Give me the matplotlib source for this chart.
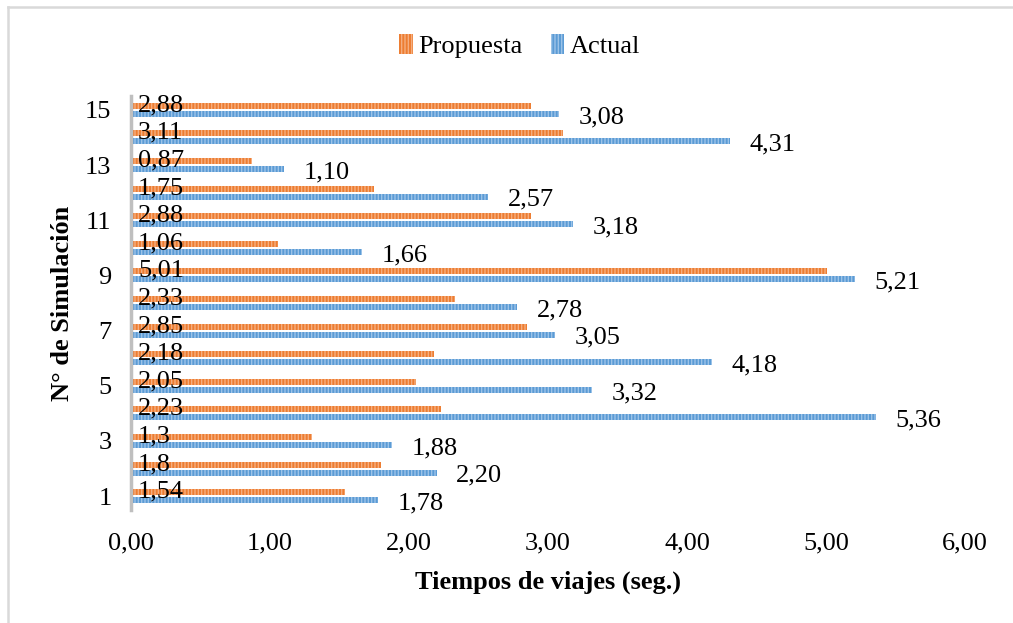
import numpy as np
import matplotlib.pyplot as plt
from matplotlib.lines import Line2D

plt.rcParams['font.family'] = ['Liberation Serif', 'DejaVu Serif']
plt.rcParams['hatch.linewidth'] = 1.0

simulacion = list(range(1, 16))
propuesta = [1.54, 1.80, 1.30, 2.23, 2.05, 2.18, 2.85, 2.33, 5.01, 1.06, 2.88, 1.75, 0.87, 3.11, 2.88]
actual = [1.78, 2.20, 1.88, 5.36, 3.32, 4.18, 3.05, 2.78, 5.21, 1.66, 3.18, 2.57, 1.10, 4.31, 3.08]
etiq_propuesta = ['1,54', '1,8', '1,3', '2,23', '2,05', '2,18', '2,85', '2,33', '5,01', '1,06',
                  '2,88', '1,75', '0,87', '3,11', '2,88']
etiq_actual = ['1,78', '2,20', '1,88', '5,36', '3,32', '4,18', '3,05', '2,78', '5,21', '1,66',
               '3,18', '2,57', '1,10', '4,31', '3,08']
x_ticks = [0, 1, 2, 3, 4, 5, 6]
x_ticklabels = ['0,00', '1,00', '2,00', '3,00', '4,00', '5,00', '6,00']

naranja = '#ED7D31'
azul = '#5B9BD5'

fig = plt.figure(figsize=(10.13, 6.23), dpi=100)
ax = fig.add_axes([0.1293, 0.1814, 0.8233, 0.6645])

y = np.array(simulacion, dtype=float)
h = 0.22
off = 0.145
b1 = ax.barh(y + off, propuesta, height=h, color=naranja, edgecolor='#F5AE80',
             linewidth=0, hatch='|||||', label='Propuesta')
b2 = ax.barh(y - off, actual, height=h, color=azul, edgecolor='#9CC3E8',
             linewidth=0, hatch='|||||', label='Actual')

fs = 19
for yi, v, t in zip(y, propuesta, etiq_propuesta):
    ax.text(0.05, yi + off + 0.02, t, fontsize=fs, va='center', ha='left')
for yi, v, t in zip(y, actual, etiq_actual):
    ax.text(v + 0.14, yi - off - 0.12, t, fontsize=fs, va='center', ha='left')

ax.set_xlim(0, 6)
ax.set_ylim(0.5, 15.5)
ax.set_xticks(x_ticks)
ax.set_xticklabels(x_ticklabels, fontsize=fs)
ax.set_yticks(simulacion[::2])
ax.set_yticklabels([str(s) for s in simulacion[::2]], fontsize=fs)
ax.tick_params(length=0, pad=14)
ax.tick_params(axis='x', pad=16)
for s in ['top', 'right', 'bottom']:
    ax.spines[s].set_visible(False)
ax.spines['left'].set_color('#BFBFBF')
ax.spines['left'].set_linewidth(2.5)

ax.set_xlabel('Tiempos de viajes (seg.)', fontsize=fs, fontweight='bold', labelpad=12)
ax.set_ylabel('N° de Simulación', fontsize=fs, fontweight='bold', labelpad=8)

leg = fig.legend(handles=[b1, b2], loc='center', bbox_to_anchor=(0.513, 0.926), ncol=2,
                 frameon=False, fontsize=fs, handlelength=0.5, handleheight=0.8,
                 handletextpad=0.2, columnspacing=1.1)

# marco gris del gráfico
fig.add_artist(Line2D([7.5 / 1013, 1], [1 - 6.5 / 623, 1 - 6.5 / 623],
                      transform=fig.transFigure, color='#D9D9D9', lw=1.8))
fig.add_artist(Line2D([7.5 / 1013, 7.5 / 1013], [0, 1 - 6.5 / 623],
                      transform=fig.transFigure, color='#D9D9D9', lw=1.8))

fig.savefig('out.png', dpi=100)
